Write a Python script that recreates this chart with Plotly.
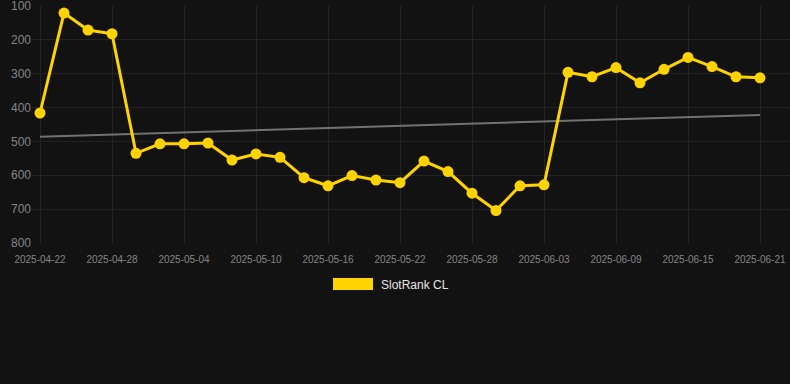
import numpy as np
import pandas as pd
import plotly.graph_objects as go

dates = pd.date_range("2025-04-22", "2025-06-21", freq="2D")
ranks = [416, 121, 171, 182, 535, 507, 507, 505, 555, 537, 547, 607, 631, 601, 614,
         622, 558, 589, 653, 704, 631, 628, 296, 309, 282, 327, 287, 252, 279, 309, 312]
y_ticks = [100, 200, 300, 400, 500, 600, 700, 800]
series_name = "SlotRank CL"

W, H = 790, 384
ML, MR, MT, MB = 32, 0, 6, 141
PW, PH = W - ML - MR, H - MT - MB

# linear trend fitted on the series
idx = np.arange(len(ranks))
slope, intercept = np.polyfit(idx, ranks, 1)
trend = slope * idx + intercept

fig = go.Figure()
fig.add_trace(go.Scatter(x=dates, y=trend, mode="lines",
                         line=dict(color="#727272", width=2),
                         hoverinfo="skip", showlegend=False))
fig.add_trace(go.Scatter(x=dates, y=ranks, mode="lines+markers", name=series_name,
                         line=dict(color="#FFD300", width=3),
                         marker=dict(color="#FFD300", size=11),
                         showlegend=False))

def px_x(p):
    return (p - ML) / PW

def px_y(p):
    return (H - MB - p) / PH

# legend swatch + text
fig.add_shape(type="rect", xref="paper", yref="paper",
              x0=px_x(333), x1=px_x(373), y0=px_y(290), y1=px_y(278),
              fillcolor="#FFD300", line=dict(width=0))
fig.add_annotation(xref="paper", yref="paper", x=px_x(379), y=px_y(284.5),
                   text=series_name, showarrow=False, xanchor="left", yanchor="middle",
                   font=dict(family="Arial, Liberation Sans, sans-serif", size=12, color="#e6e6e6"))

x_start = pd.Timestamp("2025-04-22") - pd.Timedelta(hours=16)
x_end = x_start + pd.Timedelta(days=PW / 12)

fig.update_layout(
    width=W, height=H,
    margin=dict(l=ML, r=MR, t=MT, b=MB),
    paper_bgcolor="#121212", plot_bgcolor="#121212",
    font=dict(family="Arial, Liberation Sans, sans-serif", color="#8a8a8a"),
    showlegend=False,
    xaxis=dict(range=[x_start, x_end], tick0="2025-04-22", dtick=6 * 86400000,
               tickformat="%Y-%m-%d", showgrid=True, gridcolor="#232323", gridwidth=1,
               zeroline=False, showline=False, tickfont=dict(size=10, color="#858585"),
               ticks="", ticklabelstandoff=9, ticklabeloverflow="allow"),
    yaxis=dict(range=[800, 100], tickvals=y_ticks, showgrid=True, gridcolor="#232323",
               gridwidth=1, zeroline=False, showline=False,
               tickfont=dict(size=12, color="#858585"), ticks="",
               ticklabeloverflow="allow"),
)

fig.write_html("out.html", config={"displayModeBar": False},
               post_script="document.body.style.margin='0';document.body.style.background='#121212';")
